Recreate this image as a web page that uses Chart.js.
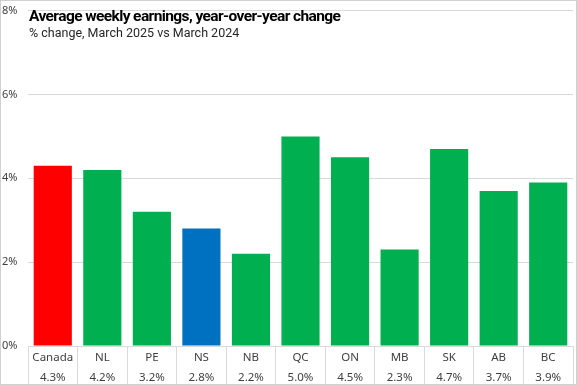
<!DOCTYPE html>
<html>
<head>
<meta charset="utf-8">
<script src="https://cdn.jsdelivr.net/npm/chart.js@4"></script>
<style>
  body { margin: 0; background: #fff; }
  #wrap { position: relative; width: 577px; height: 385px; }
  #frame { position: absolute; left: 0; top: 0; width: 577px; height: 385px; box-sizing: border-box; border: 1px solid #d0d0d0; pointer-events: none; }
  #title { position: absolute; left: 29px; top: 7px; font-family: Roboto, "Noto Sans", sans-serif; color: #000; }
  #title .main { font-size: 15.5px; font-weight: bold; letter-spacing: -0.6px; }
  #title .sub { font-size: 12.5px; color: #262626; margin-top: 0px; }
</style>
</head>
<body>
<div id="wrap">
  <canvas id="chart" width="577" height="385"></canvas>
  <div id="title">
    <div class="main">Average weekly earnings, year-over-year change</div>
    <div class="sub">% change, March 2025 vs March 2024</div>
  </div>
  <div id="frame"></div>
</div>
<script>
var regions = ["Canada", "NL", "PE", "NS", "NB", "QC", "ON", "MB", "SK", "AB", "BC"]
var changes = [4.3, 4.2, 3.2, 2.8, 2.2, 5.0, 4.5, 2.3, 4.7, 3.7, 3.9]
var yTicks = [0, 2, 4, 6, 8]

var red = "#ff0000"
var green = "#00b050"
var blue = "#0070c0"

var barColors = regions.map(function(r) {
    if (r == "Canada") return red
    if (r == "NS") return blue
    return green
})

var labels = regions.map(function(r, i) {
    return [r, changes[i].toFixed(1) + "%"]
})

new Chart(document.getElementById("chart").getContext("2d"), {
    type: "bar",
    data: {
        labels: labels,
        datasets: [{
            data: changes,
            backgroundColor: barColors,
            barPercentage: 0.77,
            categoryPercentage: 1
        }]
    },
    options: {
        responsive: false,
        animation: false,
        layout: { padding: { top: -2, right: 4, bottom: 1, left: 2 } },
        plugins: {
            legend: { display: false },
            tooltip: { enabled: false }
        },
        scales: {
            x: {
                afterFit: function(axis) { axis.height = 38 },
                grid: {
                    offset: true,
                    drawOnChartArea: false,
                    drawTicks: true,
                    tickLength: 38,
                    color: "#d9d9d9"
                },
                border: { display: false },
                ticks: {
                    color: "#404040",
                    padding: -36,
                    maxRotation: 0,
                    font: { family: "Noto Sans", size: 11.5, lineHeight: 1.75 }
                }
            },
            y: {
                min: 0,
                max: 8,
                afterBuildTicks: function(axis) {
                    axis.ticks = yTicks.map(function(v) { return { value: v } })
                },
                afterFit: function(axis) { axis.width = 26 },
                grid: { color: "#d9d9d9", drawTicks: false },
                border: { display: false },
                ticks: {
                    color: "#404040",
                    crossAlign: "far",
                    padding: 4,
                    font: { family: "Noto Sans", size: 11 },
                    callback: function(v) { return v + "%" }
                }
            }
        }
    }
})
</script>
</body>
</html>
